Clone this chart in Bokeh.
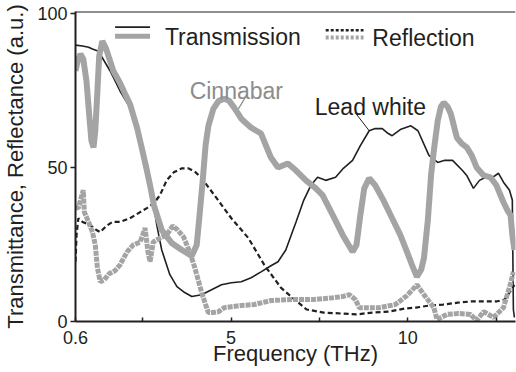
from bokeh.plotting import figure
from bokeh.models import Range1d, FixedTicker, Label, Span
from bokeh.embed import file_html
from bokeh.resources import INLINE

# ---- data (frequency THz, percent) ----
lw_t_x = [0.60, 0.80, 0.97, 1.08, 1.25, 1.58, 1.86, 2.14, 2.34, 2.51, 2.65, 2.79, 2.90, 3.04, 3.27, 3.47,
          3.69, 3.89, 4.17, 4.45, 4.73, 5.01, 5.29, 5.57, 5.85, 6.13, 6.33, 6.55, 6.84, 7.06, 7.26, 7.45,
          7.68, 7.96, 8.18, 8.44, 8.66, 8.91, 9.08, 9.28, 9.45, 9.56, 9.79, 10.09, 10.29, 10.60, 10.85,
          11.05, 11.27, 11.55, 11.67, 11.86, 12.03, 12.15, 12.37, 12.57, 12.71, 12.88, 12.96, 12.99, 13.02]
lw_t_y = [89.7, 89.4, 89.0, 88.4, 87.7, 81.3, 74.8, 69.4, 63.5, 56.1, 50.0, 39.4, 31.3, 23.2, 15.2, 11.3,
          9.4, 8.1, 8.7, 10.3, 11.9, 12.6, 12.9, 14.2, 16.1, 18.1, 19.4, 23.2, 32.3, 39.4, 44.2, 46.8,
          45.8, 46.8, 49.7, 52.3, 57.1, 61.9, 62.6, 62.6, 61.0, 60.3, 62.3, 63.5, 61.9, 53.9, 51.6,
          52.3, 52.3, 49.0, 47.4, 43.2, 45.8, 46.5, 46.5, 48.1, 45.2, 42.6, 39.4, 3.9, 1.3]

cin_t_x = [0.60, 0.66, 0.74, 0.82, 0.91, 0.99, 1.05, 1.11, 1.16, 1.22, 1.27, 1.36, 1.47, 1.58, 1.67, 1.86,
           2.03, 2.14, 2.34, 2.48, 2.62, 2.71, 2.82, 3.04, 3.32, 3.61, 3.89, 4.03, 4.11, 4.20, 4.28, 4.36,
           4.50, 4.65, 4.81, 4.95, 5.09, 5.29, 5.57, 5.85, 5.99, 6.13, 6.33, 6.61, 6.84, 7.12, 7.40, 7.59,
           7.88, 8.16, 8.44, 8.55, 8.66, 8.77, 8.91, 9.08, 9.31, 9.56, 9.79, 9.98, 10.12, 10.26, 10.38,
           10.46, 10.57, 10.66, 10.74, 10.85, 10.94, 11.02, 11.13, 11.22, 11.39, 11.53, 11.67, 11.81,
           11.95, 12.15, 12.34, 12.51, 12.71, 12.82, 12.91, 12.96, 13.02]
cin_t_y = [81.3, 84.5, 86.8, 85.2, 78.1, 66.8, 58.7, 56.5, 61.9, 74.8, 86.1, 91.0, 88.4, 84.5, 81.3, 77.4,
           73.2, 70.6, 62.9, 56.1, 49.0, 44.2, 37.7, 29.7, 25.5, 23.2, 21.3, 24.8, 34.5, 45.8, 57.1, 63.5,
           69.0, 71.6, 72.3, 71.6, 69.4, 65.8, 62.9, 61.0, 57.1, 53.2, 50.0, 51.3, 49.0, 45.8, 43.2, 41.0,
           34.5, 28.1, 22.6, 24.8, 34.5, 43.2, 46.5, 44.2, 39.4, 33.5, 28.1, 22.6, 18.4, 14.5, 16.8,
           20.6, 32.9, 47.4, 55.5, 65.2, 69.7, 71.0, 69.7, 67.4, 59.7, 57.7, 56.5, 53.9,
           50.0, 47.4, 46.8, 44.2, 38.7, 36.1, 34.5, 28.1, 23.2]

lw_r_x = [0.60, 0.63, 0.68, 0.80, 1.02, 1.19, 1.30, 1.47, 1.64, 1.86, 2.14, 2.43, 2.62, 2.82, 2.99, 3.18,
          3.38, 3.61, 3.80, 4.00, 4.17, 4.53, 5.01, 5.49, 5.94, 6.41, 6.70, 7.14, 7.62, 8.10, 8.55, 9.00,
          9.48, 9.90, 10.23, 10.63, 11.00, 11.41, 11.78, 12.17, 12.51, 12.74, 12.90, 13.02]
lw_r_y = [19.4, 28.1, 33.5, 32.3, 31.3, 29.7, 29.0, 31.0, 32.3, 32.3, 33.5, 35.5, 36.8, 38.4, 41.0, 45.8,
          48.4, 49.7, 49.7, 48.4, 46.5, 41.0, 33.5, 27.1, 18.4, 11.0, 8.1, 3.9, 2.9, 2.6, 2.3, 2.9,
          3.2, 4.2, 4.5, 5.2, 5.5, 6.1, 6.5, 6.5, 6.5, 7.1, 9.7, 11.9]

cin_r_x = [0.60, 0.68, 0.77, 0.82, 0.85, 0.97, 1.08, 1.16, 1.22, 1.30, 1.41, 1.55, 1.72, 1.86, 2.06, 2.23,
           2.43, 2.57, 2.65, 2.71, 2.80, 2.99, 3.18, 3.35, 3.49, 3.66, 3.83, 3.97, 4.17, 4.28, 4.36, 4.50,
           4.65, 4.81, 5.01, 5.29, 5.66, 6.13, 6.70, 7.31, 7.88, 8.16, 8.35, 8.52, 8.63, 8.91, 9.20, 9.65,
           9.98, 10.26, 10.46, 10.74, 10.83, 11.11, 11.44, 11.78, 11.95, 12.15, 12.43, 12.71, 12.90, 12.99]
cin_r_y = [37.1, 36.8, 40.6, 42.6, 35.5, 32.3, 29.0, 24.8, 17.4, 12.9, 13.5, 15.5, 16.5, 18.4, 22.6, 24.8,
           25.8, 30.3, 22.6, 19.4, 25.8, 27.1, 28.1, 31.0, 29.7, 27.4, 22.6, 17.7, 9.4, 5.5, 2.9, 2.9,
           3.2, 4.5, 4.8, 5.2, 5.5, 6.8, 7.1, 7.1, 7.7, 8.1, 8.7, 7.1, 4.5, 4.5, 4.5, 5.5,
           8.4, 11.9, 8.7, 4.5, 0.6, 2.3, 2.6, 2.3, 0.3, 3.2, 1.3, 4.5, 11.9, 16.1]

x_ticks = [0.6, 2.5, 5, 7.5, 10, 12.5]
x_tick_labels = {0.6: "0.6", 2.5: "", 5: "5", 7.5: "", 10: "10", 12.5: ""}
y_ticks = [0, 50, 100]
Y_TOP = 100.6

DARK = "#231f20"
GRAY = "#a4a4a4"
GRAY_TXT = "#8c8c8c"
FONT = "Liberation Sans"

p = figure(width=516, height=372, output_backend="svg", toolbar_location=None,
           x_range=Range1d(0.6, 13.05), y_range=Range1d(0, Y_TOP),
           min_border_left=73, min_border_right=1, min_border_top=11, min_border_bottom=51)
p.outline_line_color = None
p.xgrid.visible = False
p.ygrid.visible = False
p.background_fill_color = "white"
p.border_fill_color = "white"

# curves
p.line(lw_r_x, lw_r_y, line_color=DARK, line_width=2.2, line_dash="5 3")
p.line(lw_t_x, lw_t_y, line_color=DARK, line_width=1.6)
p.line(cin_r_x, cin_r_y, line_color=GRAY, line_width=5, line_dash="5 1")
p.line(cin_t_x, cin_t_y, line_color=GRAY, line_width=6)

# axes
xa = p.xaxis[0]
xa.ticker = FixedTicker(ticks=x_ticks)
xa.major_label_overrides = x_tick_labels
xa.minor_tick_line_color = None
xa.major_tick_in = 4
xa.major_tick_out = 0
xa.major_label_standoff = 9
xa.axis_label = "Frequency (THz)"
xa.axis_label_standoff = -6

ya = p.yaxis[0]
ya.ticker = FixedTicker(ticks=y_ticks)
ya.minor_tick_line_color = None
ya.major_tick_in = 0
ya.major_tick_out = 5
ya.major_label_standoff = 3
ya.axis_label = "Transmittance, Reflectance (a.u.)"
ya.axis_label_standoff = 6

for ax in (xa, ya):
    ax.axis_line_color = DARK
    ax.axis_line_width = 2
    ax.major_tick_line_color = DARK
    ax.major_tick_line_width = 1.5
    ax.major_label_text_font = FONT
    ax.major_label_text_font_size = "18px"
    ax.major_label_text_color = DARK
    ax.axis_label_text_font = FONT
    ax.axis_label_text_font_style = "normal"
    ax.axis_label_text_color = DARK
    ax.axis_label_text_font_size = "22px"

# top frame line
p.add_layout(Span(location=Y_TOP, dimension="width", line_color=DARK, line_width=2))

# legend (manual, two stacked samples per entry)
p.line([1.72, 2.71], [95.5, 95.5], line_color=DARK, line_width=1.8)
p.line([1.72, 2.71], [92.6, 92.6], line_color=GRAY, line_width=5)
p.line([7.68, 8.75], [94.5, 94.5], line_color=DARK, line_width=2.5, line_dash="3 2")
p.line([7.68, 8.75], [92.2, 92.2], line_color=GRAY, line_width=4, line_dash="3 2")
p.add_layout(Label(x=3.13, y=92.3, text="Transmission", text_font=FONT, text_font_size="23px",
                   text_color=DARK, text_baseline="alphabetic"))
p.add_layout(Label(x=9.0, y=92.0, text="Reflection", text_font=FONT, text_font_size="23px",
                   text_color=DARK, text_baseline="alphabetic"))

# annotations
p.line([5.43, 5.21], [73.2, 69.0], line_color=GRAY_TXT, line_width=1.2)
p.add_layout(Label(x=3.83, y=74.8, text="Cinnabar", text_font=FONT, text_font_size="23px",
                   text_color=GRAY_TXT, text_baseline="alphabetic"))
p.line([8.52, 8.91], [67.7, 61.9], line_color=DARK, line_width=1.0)
p.add_layout(Label(x=7.37, y=69.7, text="Lead white", text_font=FONT, text_font_size="23px",
                   text_color=DARK, text_baseline="alphabetic"))

open("out.html", "w").write(file_html(p, INLINE))
